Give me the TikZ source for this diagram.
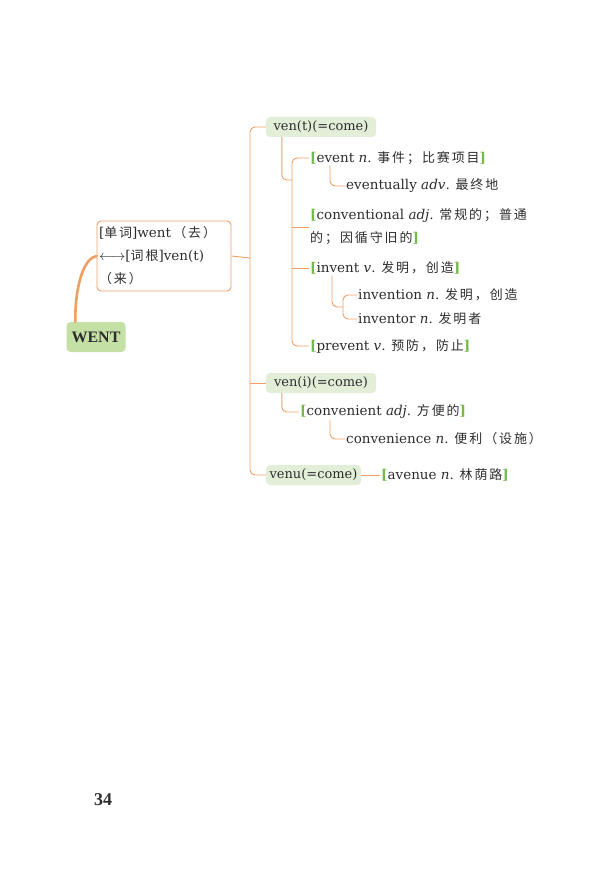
\documentclass[tikz,border=0pt]{standalone}
\usepackage{fontspec}
\setmainfont{DejaVu Serif}
\newfontfamily\cjk[Scale=0.96,LetterSpace=15]{Noto Sans CJK SC}
\newfontfamily\headfont{Liberation Serif}
\usepackage{tikz}
\usetikzlibrary{calc,positioning}
\definecolor{lineorange}{RGB}{240,158,100}
\definecolor{rootgreen}{RGB}{226,238,215}
\definecolor{wentgreen}{RGB}{197,224,165}
\definecolor{brkgreen}{RGB}{115,186,75}
\definecolor{inkgray}{RGB}{45,45,45}
\newcommand{\zh}[1]{{\cjk #1}}
\newcommand{\lb}{\textcolor{brkgreen}{\textbf{[}}}
\newcommand{\rb}{\textcolor{brkgreen}{\textbf{]}}}

\begin{document}
\begin{tikzpicture}[x=1pt,y=-1pt,text=inkgray,
			main node/.style={rectangle, fill=wentgreen, rounded corners=4pt, font=\headfont\fontsize{16}{18}\selectfont\bfseries, minimum width=59pt, minimum height=30pt, inner sep=2pt},
			root node/.style={rectangle, fill=rootgreen, rounded corners=4pt, minimum height=20pt, inner sep=3pt, font=\fontsize{13}{14}\selectfont},
			word node/.style={anchor=west, inner sep=1pt, align=left, font=\fontsize{13.5}{23}\selectfont},
			conn/.style={draw=lineorange, line width=0.9pt, rounded corners=5pt}]
			\useasboundingbox (0,0) rectangle (591,874);
			
			\node[main node] (1) at (96,337) {WENT};
			\node[rectangle, draw=lineorange, rounded corners=4pt, line width=0.9pt, align=left, text width=130pt, minimum height=70pt, inner sep=2pt, font=\fontsize{13.5}{23}\selectfont] (2) at (164,256) {[\zh{单词}]went\,\zh{（去）}\\$\longleftrightarrow$[\zh{词根}]ven(t)\\\zh{（来）}};
			
			\node[root node, minimum width=110pt] (3) at (321,127) {ven(t)(=come)};
			\node[word node] (4) at (309,158) {\lb event \textit{n}. \zh{事件；比赛项目}\rb};
			\node[word node] (5) at (345,186) {eventually \textit{adv}. \zh{最终地}};
			\node[word node] (6) at (309,227) {\lb conventional \textit{adj}. \zh{常规的；普通}\\\zh{的；因循守旧的}\rb};
			\node[word node] (7) at (309,268) {\lb invent \textit{v}. \zh{发明，创造}\rb};
			\node[word node] (8) at (357,295) {invention \textit{n}. \zh{发明，创造}};
			\node[word node] (9) at (357,319) {inventor \textit{n}. \zh{发明者}};
			\node[word node] (10) at (309,346) {\lb prevent \textit{v}. \zh{预防，防止}\rb};
			\node[root node, minimum width=110pt] (11) at (321,383) {ven(i)(=come)};
			\node[word node] (12) at (299,412) {\lb convenient \textit{adj}. \zh{方便的}\rb};
			\node[word node] (13) at (345,439) {convenience \textit{n}. \zh{便利（设施）}};
			\node[root node, minimum width=95pt] (14) at (313.5,475) {venu(=come)};
			\node[word node] (15) at (380,475) {\lb avenue \textit{n}. \zh{林荫路}\rb};
			
			\node[font=\headfont\fontsize{18}{20}\selectfont\bfseries] (16) at (103,800) {34};
			
			\coordinate (a) at (250,258);
			\coordinate (b) at (292,180);
			\coordinate (c) at (343,307);
			
			% WENT to box
			\draw[lineorange, line width=2.6pt, line cap=round] ($(1.north west)+(9,0)$) .. controls (75,285) and (84,258) .. (2.west);
			
			\draw[conn] (2.east) -- (a);
			\draw[conn] (3.west) -| (a) |- (14.west);
			\draw[conn] (a |- 11.west) -- (11.west);
			\draw[conn] ($(3.south west)+(16,0)$) |- (b);
			\draw[conn] (4.west) -| (b) |- (10.west);
			\draw[conn] (b |- 6.west) -- (6.west);
			\draw[conn] (b |- 7.west) -- (7.west);
			\draw[conn] ($(4.south west)+(21,0)$) |- (5.west);
			\draw[conn] ($(7.south west)+(23,0)$) |- (c);
			\draw[conn] (8.west) -| (c) |- (9.west);
			\draw[conn] ($(11.south west)+(16,0)$) |- (12.west);
			\draw[conn] ($(12.south west)+(31,0)$) |- (13.west);
			\draw[conn] (14.east) -- (15.west);
			
		\end{tikzpicture}
\end{document}
